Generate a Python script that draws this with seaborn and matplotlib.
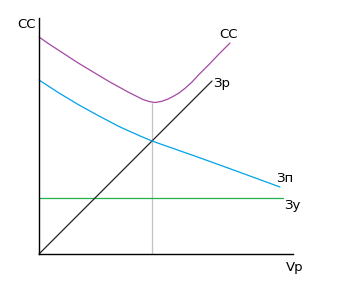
import matplotlib
matplotlib.use("Agg")
import matplotlib.pyplot as plt
import seaborn as sns
import numpy as np

# Data (chart units, origin at axes corner)
cc_x = [0, 10, 20, 30, 40, 50, 60, 70, 80, 90, 98, 104, 110, 116, 122, 128, 134, 140, 147, 153, 160, 170, 180, 191]
cc_y = [217, 210, 203.5, 197, 190.5, 184.5, 178.5, 172.5, 167, 161.5, 157.5, 154.5, 152.5, 151.5, 152.5, 154.5, 157.5, 161, 166.5, 172, 179.5, 189.5, 200, 211]

zr_x = [0, 173]
zr_y = [0, 173]

zp_x = [0, 20, 40, 60, 80, 100, 113, 140, 160, 200, 241]
zp_y = [174, 161, 149, 138, 127.5, 118.5, 113, 103.5, 96.5, 82, 67]

zu_x = [0, 244]
zu_y = [56, 56]

vline_x = [113, 113]
vline_y = [0, 151]

labels = {"СС_curve": "СС", "Зр": "Зр", "Зп": "Зп", "Зу": "Зу"}
y_label = "СС"
x_label = "Vр"

sns.set_style("white")
plt.rcParams['font.family'] = ['DejaVu Sans']

fig = plt.figure(figsize=(3.54, 2.99), dpi=100)
ax = fig.add_axes([0, 0, 1, 1])
ax.set_xlim(-39, 315)
ax.set_ylim(-45, 254)

lw = 0.9
sns.lineplot(x=vline_x, y=vline_y, ax=ax, color="#c3c3c3", lw=lw, sort=False, estimator=None)
sns.lineplot(x=zu_x, y=zu_y, ax=ax, color="#22b14c", lw=lw, sort=False, estimator=None)
sns.lineplot(x=zr_x, y=zr_y, ax=ax, color="#222222", lw=lw, sort=False, estimator=None)
sns.lineplot(x=zp_x, y=zp_y, ax=ax, color="#00a2e8", lw=lw, sort=False, estimator=None)
sns.lineplot(x=cc_x, y=cc_y, ax=ax, color="#a349a4", lw=lw, sort=False, estimator=None)

# axes
for s in ["top", "right"]:
    ax.spines[s].set_visible(False)
ax.spines["left"].set_position(("data", 0))
ax.spines["bottom"].set_position(("data", 0))
ax.spines["left"].set_bounds(0, 236)
ax.spines["bottom"].set_bounds(0, 254)
ax.spines["left"].set_linewidth(1.0)
ax.spines["bottom"].set_linewidth(1.0)
ax.spines["left"].set_color("black")
ax.spines["bottom"].set_color("black")
ax.set_xticks([])
ax.set_yticks([])

fs = 9.5
tc = "black"
ax.text(189, 219, labels["СС_curve"], fontsize=fs, ha="center", va="center", color=tc)
ax.text(183, 171, labels["Зр"], fontsize=fs, ha="center", va="center", color=tc)
ax.text(246, 75, labels["Зп"], fontsize=fs, ha="center", va="center", color=tc)
ax.text(253, 48, labels["Зу"], fontsize=fs, ha="center", va="center", color=tc)
ax.text(256, -13, x_label, fontsize=fs, ha="center", va="center", color=tc)
ax.text(-12, 230, y_label, fontsize=fs, ha="center", va="center", color=tc)

fig.savefig("out.png", dpi=100)
